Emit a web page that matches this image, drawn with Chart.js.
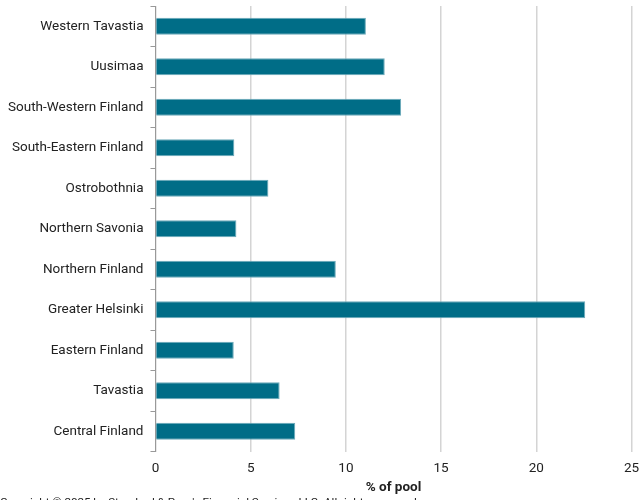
<!DOCTYPE html>
<html>
<head>
<meta charset="utf-8">
<script src="https://cdn.jsdelivr.net/npm/chart.js@4/dist/chart.umd.min.js"></script>
<style>
    html, body { margin: 0; padding: 0; background: #fff; overflow: hidden; }
    #wrap { position: relative; width: 639px; height: 500px; }
    #copyright {
        position: absolute; left: 0; top: 495px;
        font: 11.6px Roboto, sans-serif; color: #222; white-space: nowrap;
    }
</style>
</head>
<body>
<div id="wrap">
    <canvas id="pool-chart" width="639" height="500"></canvas>
    <div id="copyright">Copyright © 2025 by Standard &amp; Poor's Financial Services LLC. All rights reserved.</div>
</div>
<script>
const regions = [
    'Western Tavastia', 'Uusimaa', 'South-Western Finland', 'South-Eastern Finland',
    'Ostrobothnia', 'Northern Savonia', 'Northern Finland', 'Greater Helsinki',
    'Eastern Finland', 'Tavastia', 'Central Finland'
];
const poolShare = [11.05, 12.04, 12.9, 4.14, 5.93, 4.25, 9.47, 22.57, 4.11, 6.52, 7.34];
const xTicks = [0, 5, 10, 15, 20, 25];

const ctx = document.getElementById('pool-chart').getContext('2d');

new Chart(ctx, {
    type: 'bar',
    data: {
        labels: regions,
        datasets: [{
            data: poolShare,
            backgroundColor: '#006d87',
            borderColor: '#6aa9b9',
            borderWidth: 1,
            borderSkipped: 'start',
            categoryPercentage: 1,
            barPercentage: 0.42
        }]
    },
    options: {
        indexAxis: 'y',
        responsive: false,
        animation: false,
        layout: { padding: { top: 6, left: 1, right: 0, bottom: 4 } },
        plugins: {
            legend: { display: false },
            tooltip: { enabled: false }
        },
        scales: {
            x: {
                min: 0,
                max: 25,
                afterBuildTicks: axis => { axis.ticks = xTicks.map(v => ({ value: v })); },
                // only leave room for half of the last tick label on the right
                afterFit: axis => { axis.paddingRight = 7.5; },
                grid: { color: '#d4d4d4', lineWidth: 1.5, drawTicks: false },
                border: { display: false },
                ticks: { color: '#222', font: { family: 'Roboto', size: 13.5 }, padding: 9 },
                title: {
                    display: true,
                    text: '% of pool',
                    color: '#222',
                    font: { family: 'Roboto', size: 13.5, weight: 'bold' },
                    padding: { top: -6, bottom: 0 }
                }
            },
            y: {
                // labels sit between the category ticks, so no extra room above/below
                afterFit: axis => { axis.paddingTop = 0; axis.paddingBottom = 0; },
                grid: { drawOnChartArea: false, color: '#999', tickLength: 5 },
                border: { color: '#999' },
                ticks: { color: '#222', font: { family: 'Roboto', size: 13.5 }, padding: 7 }
            }
        }
    }
});
</script>
</body>
</html>
